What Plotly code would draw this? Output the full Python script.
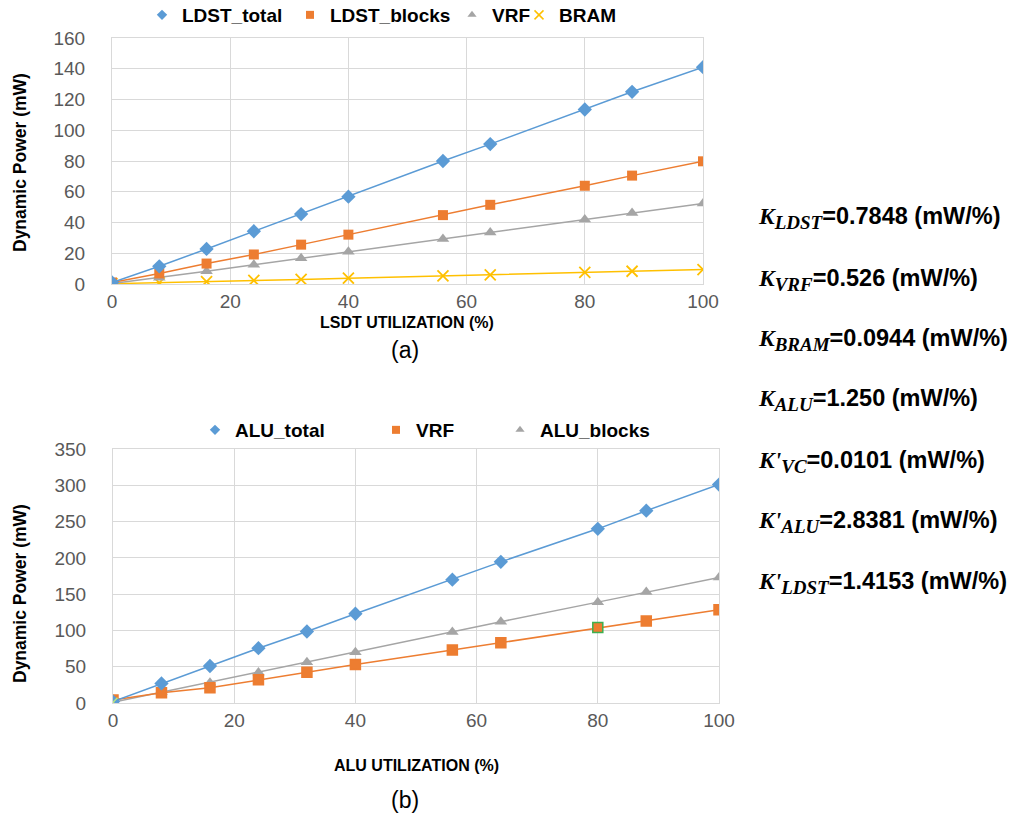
import plotly.graph_objects as go

W, H = 1009, 823

# ---------------- data ----------------
utilization = [0, 8, 16, 24, 32, 40, 56, 64, 80, 88, 100]

# (a) LDST utilization
ldst_total = [1.0, 11.5, 22.8, 34.3, 45.5, 56.8, 80.0, 91.0, 113.5, 125.0, 141.0]
ldst_blocks = [1.0, 6.9, 13.3, 19.2, 25.6, 32.1, 44.8, 51.5, 63.9, 70.5, 79.8]
vrf_a = [0.3, 4.1, 8.3, 12.5, 16.7, 20.9, 29.3, 33.5, 41.9, 46.2, 52.4]
bram = [0.2, 0.8, 1.5, 2.3, 3.0, 3.8, 5.3, 6.0, 7.5, 8.3, 9.4]

# (b) ALU utilization
alu_total = [2.0, 27.0, 51.0, 75.5, 98.5, 123.0, 170.0, 194.5, 240.0, 265.0, 301.0]
vrf_b = [4.0, 14.0, 21.0, 32.0, 42.5, 53.0, 73.0, 83.0, 104.0, 113.0, 128.5]
alu_blocks = [1.0, 15.0, 28.0, 42.0, 56.0, 70.0, 98.0, 112.0, 139.0, 153.0, 173.0]
hidden_b_x = [0]
hidden_b_y = [1.0]

legend_a = ["LDST_total", "LDST_blocks", "VRF", "BRAM"]
legend_b = ["ALU_total", "VRF", "ALU_blocks"]

constants = [
    ("K", "LDST", "0.7848"),
    ("K", "VRF", "0.526"),
    ("K", "BRAM", "0.0944"),
    ("K", "ALU", "1.250"),
    ("K'", "VC", "0.0101"),
    ("K'", "ALU", "2.8381"),
    ("K'", "LDST", "1.4153"),
]

# ---------------- style ----------------
BLUE = "#5B9BD5"
ORANGE = "#ED7D31"
GRAY = "#A5A5A5"
YELLOW = "#FFC000"
GRID = "#D9D9D9"
FONT = "Liberation Sans, Arial, sans-serif"
TICKC = "#595959"


def px_x(p):
    return p / W


def px_y(p):
    return 1 - p / H


fig = go.Figure()

sym = {"diamond": 11, "square": 10, "triangle-up": 11, "x-thin-open": 11}


def add_series(x, y, color, symbol, xa, ya, lw=1.5, mline=None):
    marker = dict(symbol=symbol, size=sym[symbol], color=color)
    if symbol == "x-thin-open":
        marker["line"] = dict(color=color, width=1.8)
    elif mline is not None:
        marker["line"] = mline
    fig.add_trace(go.Scatter(
        x=x, y=y, mode="lines+markers", xaxis=xa, yaxis=ya,
        line=dict(color=color, width=lw), marker=marker,
        showlegend=False, hoverinfo="skip"))


def add_legend_item(name, color, symbol, legend):
    marker = dict(symbol=symbol, size=8, color=color)
    if symbol == "x-thin-open":
        marker["line"] = dict(color=color, width=1.5)
        marker["size"] = 9
    fig.add_trace(go.Scatter(
        x=[None], y=[None], mode="markers", name=name, marker=marker,
        legend=legend, showlegend=True, xaxis="x", yaxis="y"))


# (a)
add_series(utilization, bram, YELLOW, "x-thin-open", "x", "y")
add_series(utilization, vrf_a, GRAY, "triangle-up", "x", "y")
add_series(utilization, ldst_blocks, ORANGE, "square", "x", "y")
add_series(utilization, ldst_total, BLUE, "diamond", "x", "y")

# (b)
vrf_b_border = [ORANGE] * len(utilization)
vrf_b_border[utilization.index(80)] = "#3DAF4F"
add_series(utilization, alu_blocks, GRAY, "triangle-up", "x2", "y2")
add_series(utilization, vrf_b, ORANGE, "square", "x2", "y2",
           mline=dict(color=vrf_b_border, width=1.5))
add_series(utilization, alu_total, BLUE, "diamond", "x2", "y2")
fig.add_trace(go.Scatter(x=hidden_b_x, y=hidden_b_y, mode="markers", xaxis="x2", yaxis="y2",
                         marker=dict(symbol="x-thin-open", size=9, line=dict(color=YELLOW, width=1.5)),
                         showlegend=False, hoverinfo="skip"))

# legend entries: one legend per entry so each can sit where the reference has it
legend_names = ["legend", "legend2", "legend3", "legend4", "legend5", "legend6", "legend7"]
leg_items = list(zip(legend_a, [BLUE, ORANGE, GRAY, YELLOW],
                     ["diamond", "square", "triangle-up", "x-thin-open"])) + \
            list(zip(legend_b, [BLUE, ORANGE, GRAY],
                     ["diamond", "square", "triangle-up"]))
leg_text_x = [181, 329, 491, 558, 234, 415, 539]
leg_center_y = [15, 15, 15, 15, 430, 430, 430]

for (name, c, s), lg in zip(leg_items, legend_names):
    add_legend_item(name, c, s, lg)

legend_layout = {}
for lg, tx, cy in zip(legend_names, leg_text_x, leg_center_y):
    legend_layout[lg] = dict(
        orientation="h", x=px_x(tx - 39), xanchor="left",
        y=px_y(cy), yanchor="middle",
        font=dict(family=FONT, size=19, color="black", weight="bold"),
        bgcolor="rgba(0,0,0,0)", itemwidth=30)

axis_common = dict(
    showgrid=True, gridcolor=GRID, gridwidth=1,
    showline=True, linecolor=GRID, linewidth=1, mirror=True,
    zeroline=False, ticks="", fixedrange=True, automargin=False,
    tickfont=dict(family=FONT, size=19, color=TICKC),
)

fig.update_layout(
    width=W, height=H,
    margin=dict(l=0, r=0, t=0, b=0, autoexpand=False),
    paper_bgcolor="white", plot_bgcolor="white",
    xaxis=dict(domain=[px_x(112), px_x(703)], range=[0, 100], dtick=20,
               anchor="y", ticklabelstandoff=0, **axis_common),
    yaxis=dict(domain=[px_y(284), px_y(38)], range=[0, 160], dtick=20,
               anchor="x", ticklabelstandoff=22, **axis_common),
    xaxis2=dict(domain=[px_x(113), px_x(719)], range=[0, 100], dtick=20,
                anchor="y2", ticklabelstandoff=0, **axis_common),
    yaxis2=dict(domain=[px_y(703), px_y(449)], range=[0, 350], dtick=50,
                anchor="x2", ticklabelstandoff=22, **axis_common),
    showlegend=True,
    **legend_layout,
)

annots = []


def ann(text, x, y, size, xanchor="center", yanchor="middle", angle=0, family=FONT):
    annots.append(dict(text=text, x=px_x(x), y=px_y(y), xref="paper", yref="paper",
                       xanchor=xanchor, yanchor=yanchor, textangle=angle, showarrow=False,
                       font=dict(family=family, size=size, color="black")))


# y axis titles
ann("<b>Dynamic Power (mW)</b>", 20, 163, 17.5, angle=-90)
ann("<b>Dynamic Power (mW)</b>", 20, 594, 17.5, angle=-90)
# x axis titles
ann("<b>LSDT UTILIZATION (%)</b>", 407, 322, 16)
ann("<b>ALU UTILIZATION (%)</b>", 416, 765, 16)
# panel labels
ann("(a)", 405, 350, 23)
ann("(b)", 405, 800, 23)

const_y = [218, 280, 340, 400, 462, 522, 583]
SERIF = "Liberation Serif, DejaVu Serif, serif"
for (k, sub, val), yy in zip(constants, const_y):
    txt = (f"<b><span style='font-family:{SERIF}'><i>{k}</i><sub>"
           f"<span style='font-size:19px'><i>{sub}</i></span></sub></span>"
           f"={val} (mW/%)</b>")
    ann(txt, 756, yy, 23.5, xanchor="left")

fig.update_layout(annotations=annots)

fig.write_html("out.html")
